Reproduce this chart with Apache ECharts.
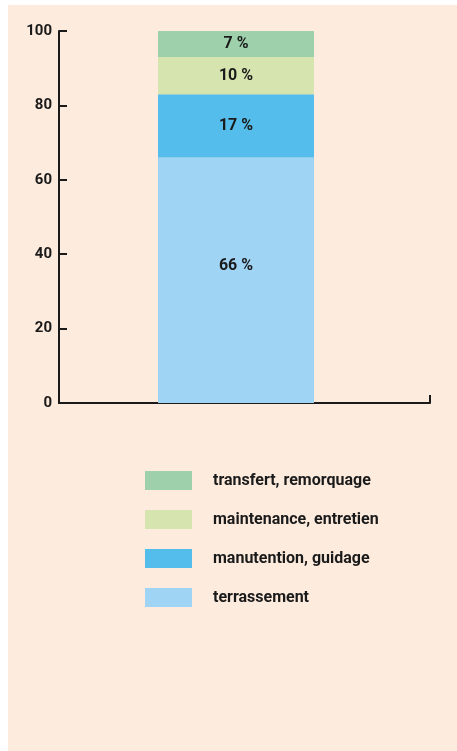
<!DOCTYPE html>
<html>
<head>
<meta charset="utf-8">
<script src="https://cdn.jsdelivr.net/npm/echarts@6/dist/echarts.min.js"></script>
<style>
  html, body { margin: 0; padding: 0; background: #fff; }
  #bg { position: absolute; left: 8px; top: 5px; right: 0; bottom: 0; background: #fdebde; }
  #chart { position: absolute; left: 0; top: 0; width: 457px; height: 751px; }
</style>
</head>
<body>
<div id="bg"></div>
<div id="chart"></div>
<script>
// share of each activity (%), bottom to top
const activities = ['terrassement', 'manutention, guidage', 'maintenance, entretien', 'transfert, remorquage']
const shares = [66, 17, 10, 7]
const colors = ['#a0d4f5', '#55bdec', '#d6e5b0', '#9ed1ab']
const yTicks = [0, 20, 40, 60, 80, 100]

const fontFamily = 'Roboto, "DejaVu Sans", sans-serif'
const ink = '#1a1a1a'

const chart = echarts.init(document.getElementById('chart'), null, { renderer: 'canvas' })

const option = {
  animation: false,
  backgroundColor: 'transparent',
  textStyle: { fontFamily },
  grid: [
    // axes frame
    { left: 59, right: 27, top: 31, bottom: 348 },
    // the single bar
    { left: 158, right: 143, top: 31, bottom: 348 },
  ],
  xAxis: [
    {
      gridIndex: 0,
      type: 'category',
      data: [''],
      axisLine: { lineStyle: { color: ink, width: 2 } },
      axisTick: { show: true, interval: 0, inside: true, length: 8, lineStyle: { color: ink, width: 2 } },
      axisLabel: { show: false },
    },
    {
      gridIndex: 1,
      type: 'category',
      data: [''],
      show: false,
    },
  ],
  yAxis: [
    {
      gridIndex: 0,
      type: 'value',
      min: yTicks[0],
      max: yTicks[yTicks.length - 1],
      interval: 20,
      axisLine: { show: true, lineStyle: { color: ink, width: 2 } },
      axisTick: { show: true, inside: true, length: 8, lineStyle: { color: ink, width: 2 } },
      axisLabel: { color: ink, fontSize: 15, fontWeight: 'bold', margin: 7 },
      splitLine: { show: false },
    },
    {
      gridIndex: 1,
      type: 'value',
      min: yTicks[0],
      max: yTicks[yTicks.length - 1],
      show: false,
    },
  ],
  legend: {
    orient: 'vertical',
    left: 145,
    top: 471,
    padding: 0,
    itemWidth: 47,
    itemHeight: 19,
    itemGap: 20,
    icon: 'rect',
    data: activities.slice().reverse(),
    textStyle: { color: ink, fontSize: 16, fontWeight: 'bold', padding: [0, 0, 0, 16] },
  },
  series: activities.map((name, i) => ({
    name,
    type: 'bar',
    stack: 'total',
    xAxisIndex: 1,
    yAxisIndex: 1,
    barWidth: '100%',
    data: [shares[i]],
    itemStyle: { color: colors[i] },
    label: {
      show: true,
      position: 'inside',
      offset: i === 0 ? [0, -14] : [0, 0],
      formatter: '{c} %',
      color: ink,
      fontSize: 16,
      fontWeight: 'bold',
    },
  })),
}

chart.setOption(option)
</script>
</body>
</html>
